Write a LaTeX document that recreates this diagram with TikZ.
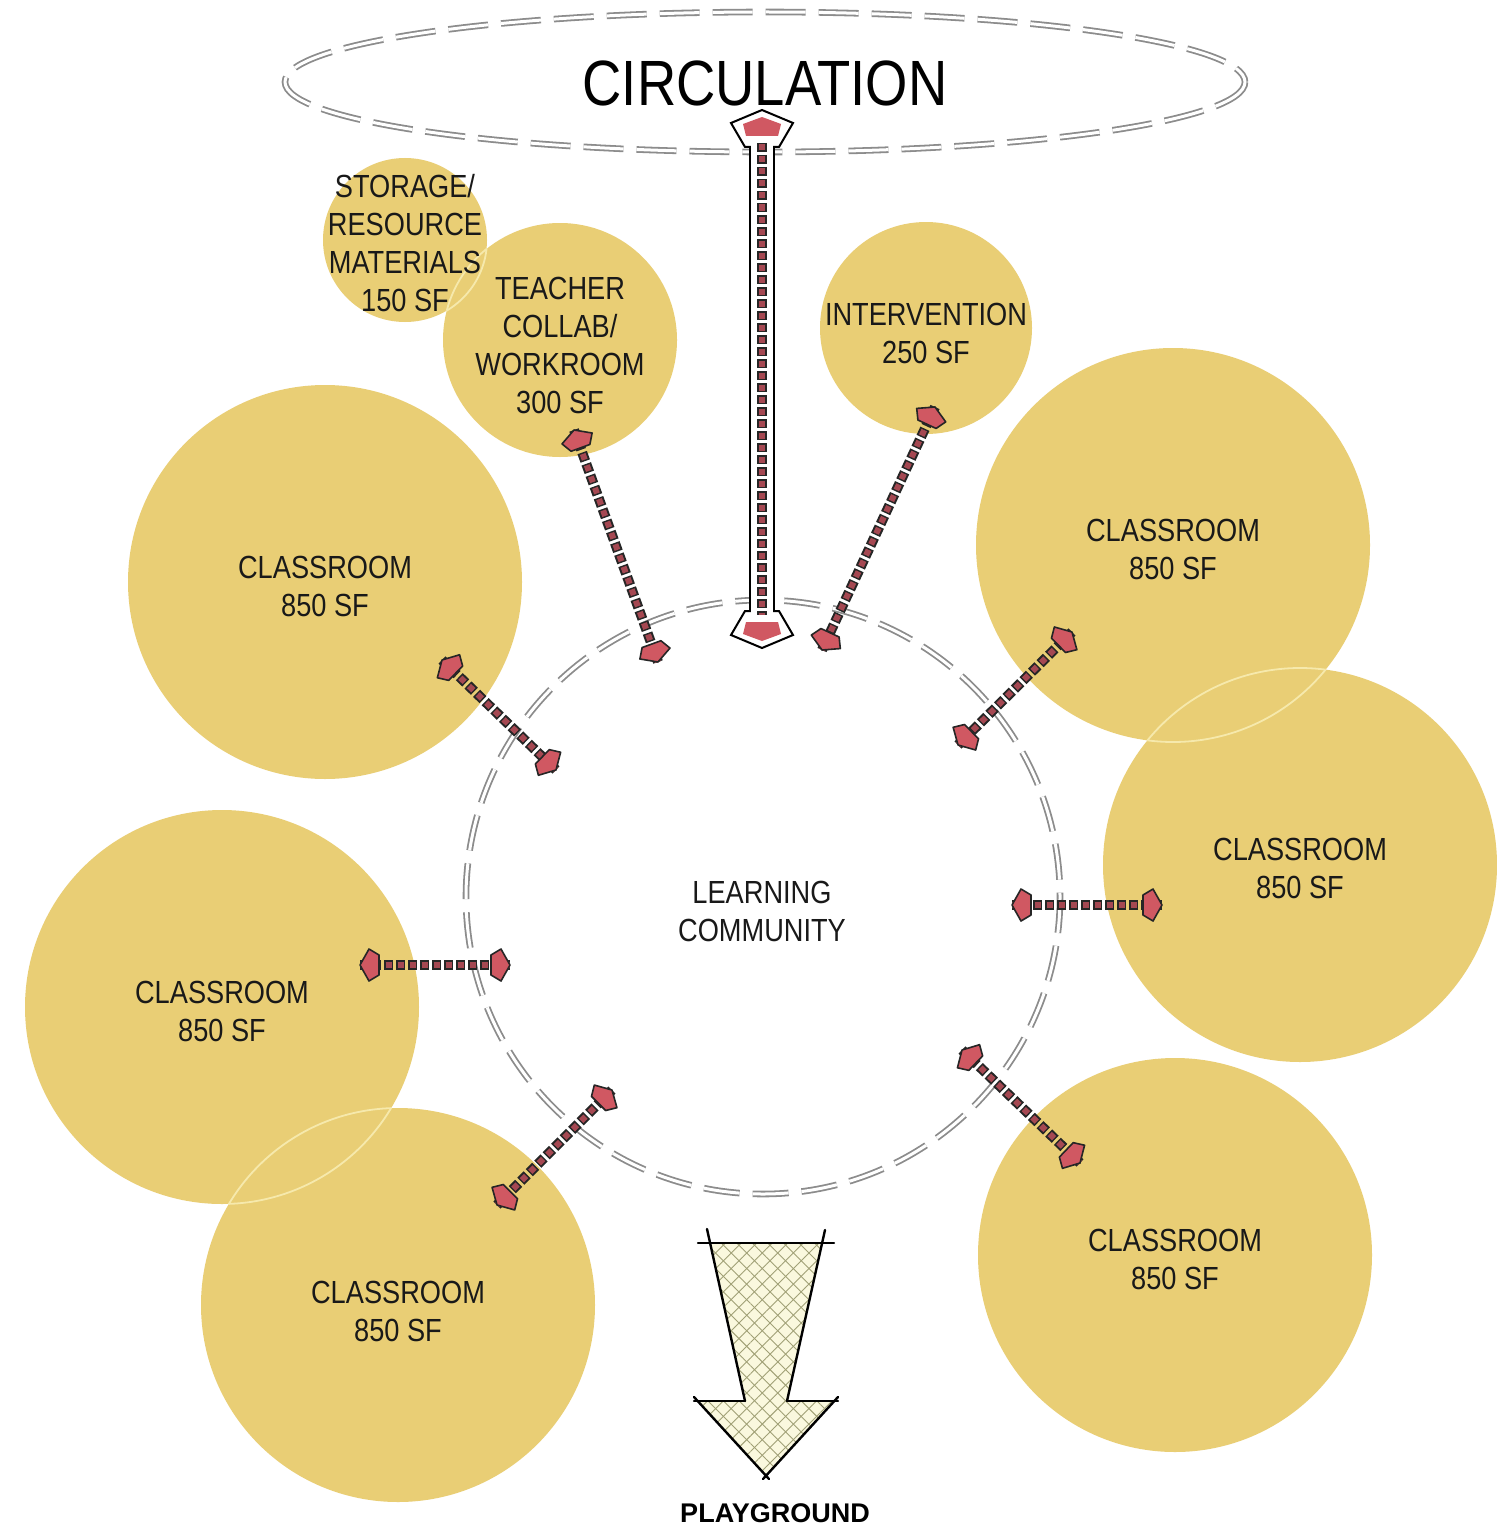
\documentclass[tikz,border=0pt]{standalone}
\usepackage{fontspec}
\usetikzlibrary{decorations.markings,patterns.meta,calc,shapes.geometric}
\newfontfamily\roomfont[FakeStretch=0.85]{Liberation Sans}
\newfontfamily\pgfont{Liberation Sans}
\definecolor{roomfill}{RGB}{233,206,117}
\definecolor{lenscol}{RGB}{246,233,172}
\definecolor{headred}{RGB}{208,88,98}
\definecolor{shaftred}{RGB}{165,72,82}
\definecolor{dashgray}{RGB}{140,140,140}
\definecolor{hatchcol}{RGB}{160,160,118}
\definecolor{cream}{RGB}{250,248,222}
\newcommand\smallhead{\filldraw[solid,fill=headred,draw=black!85,line width=1.6pt,line join=round] (0,0) -- (-9,16) -- (-19,10) -- (-19,-10) -- (-9,-16) -- cycle;}
\newcommand\bighead{\filldraw[solid,fill=white,draw=black,line width=2pt,line join=miter] (0,0) -- (-13,31) -- (-37,17) -- (-37,-17) -- (-13,-31) -- cycle;
 \fill[headred] (-7,0) -- (-14,19) -- (-26,16) -- (-26,-16) -- (-14,-19) -- cycle;}
\tikzset{
 room/.style={circle, fill=roomfill, inner sep=0pt, minimum size=#1},
 lensline/.style={draw=lenscol, line width=1.8pt},
 roomtext/.style={font=\roomfont\fontsize{32}{38}\selectfont, align=center, text=black!90, inner sep=0pt},
 lcircle/.style={draw=dashgray, double=white, double distance=3pt, line width=1.8pt, dash pattern=on 36pt off 13pt},
 linkshaft/.style={draw=shaftred, line width=6pt, dash pattern=on 6pt off 6pt, dash phase=10.5pt,
   preaction={draw=black!85, line width=10pt, dash pattern=on 9pt off 3pt, dash phase=0pt}},
 link/.style={linkshaft, postaction={decorate, decoration={markings,
   mark=at position 0 with {\begin{scope}[xscale=-1]\smallhead\end{scope}},
   mark=at position 1 with {\smallhead}}}},
 bigheads/.style={postaction={decorate, decoration={markings,
   mark=at position 0 with {\begin{scope}[xscale=-1]\bighead\end{scope}},
   mark=at position 1 with {\bighead}}}},
 pgline/.style={draw=black, line width=2.4pt, line cap=round},
}
\begin{document}
\begin{tikzpicture}[x=1pt,y=-1pt]
\useasboundingbox[fill=white] (0,0) rectangle (1496,1533);

% rooms
\node[room=164pt] (stor) at (405,240) {};
\node[room=234pt] (teach) at (560,340) {};
\node[room=212pt] (interv) at (926,328) {};
\node[room=394pt] (crtl) at (325,582) {};
\node[room=394pt] (crrt) at (1173,545) {};
\node[room=394pt] (crrm) at (1300,865) {};
\node[room=394pt] (crlm) at (222,1007) {};
\node[room=394pt] (crbl) at (398,1305) {};
\node[room=394pt] (crbr) at (1175,1255) {};

% faint outlines where circles overlap
\begin{scope}\clip (teach.center) circle[radius=117];
 \path[lensline] (stor.center) circle[radius=82];\end{scope}
\begin{scope}\clip (stor.center) circle[radius=82];
 \path[lensline] (teach.center) circle[radius=117];\end{scope}
\begin{scope}\clip (crrm.center) circle[radius=197];
 \path[lensline] (crrt.center) circle[radius=197];\end{scope}
\begin{scope}\clip (crrt.center) circle[radius=197];
 \path[lensline] (crrm.center) circle[radius=197];\end{scope}
\begin{scope}\clip (crbl.center) circle[radius=197];
 \path[lensline] (crlm.center) circle[radius=197];\end{scope}
\begin{scope}\clip (crlm.center) circle[radius=197];
 \path[lensline] (crbl.center) circle[radius=197];\end{scope}

% learning community and circulation
\node[circle, minimum size=594pt, inner sep=0pt] (lc) at (763,897) {};
\path[lcircle] (lc.center) circle[radius=297];
\node[ellipse, inner sep=0pt] (circ) at (765,82) {};
\path[lcircle, dash pattern=on 40pt off 13pt] (circ.center) ellipse[x radius=480, y radius=70];

% labels
\node[roomtext] (storL) at (405,243) {STORAGE/\\RESOURCE\\MATERIALS\\150 SF};
\node[roomtext] (teachL) at (560,345) {TEACHER\\COLLAB/\\WORKROOM\\300 SF};
\node[roomtext] (intervL) at (926,333) {INTERVENTION\\250 SF};
\node[roomtext] (crtlL) at (325,586) {CLASSROOM\\850 SF};
\node[roomtext] (crrtL) at (1173,549) {CLASSROOM\\850 SF};
\node[roomtext] (crrmL) at (1300,868) {CLASSROOM\\850 SF};
\node[roomtext] (crlmL) at (222,1011) {CLASSROOM\\850 SF};
\node[roomtext] (crblL) at (398,1311) {CLASSROOM\\850 SF};
\node[roomtext] (crbrL) at (1175,1259) {CLASSROOM\\850 SF};
\node[roomtext] (lcL) at (762,911) {LEARNING\\COMMUNITY};
\node[font=\roomfont\fontsize{64}{70}\selectfont, text=black, inner sep=0pt] (circL) at (765,83) {CIRCULATION};

% small link arrows
\coordinate (t1) at (574,430);  \coordinate (t2) at (658,662);
\coordinate (i1) at (935,407);  \coordinate (i2) at (822,650);
\coordinate (a1) at (442,660);  \coordinate (a2) at (556,770);
\coordinate (b1) at (1072,632); \coordinate (b2) at (958,745);
\coordinate (c1) at (1162,905); \coordinate (c2) at (1012,905);
\coordinate (d1) at (360,965);  \coordinate (d2) at (510,965);
\coordinate (e1) at (612,1090); \coordinate (e2) at (497,1205);
\coordinate (f1) at (962,1050); \coordinate (f2) at (1080,1163);
\draw[link] (t1) -- (t2);
\draw[link] (i1) -- (i2);
\draw[link] (a1) -- (a2);
\draw[link] (b1) -- (b2);
\draw[link] (c1) -- (c2);
\draw[link] (d1) -- (d2);
\draw[link] (e1) -- (e2);
\draw[link] (f1) -- (f2);

% circulation arrow
\coordinate (ctop) at (762,110);
\coordinate (cbot) at (762,648);
\path[bigheads] (ctop) -- (cbot);
\draw[line width=26pt, black] ($(ctop)+(0,37)$) -- ($(cbot)+(0,-37)$);
\draw[line width=22pt, white] ($(ctop)+(0,30)$) -- ($(cbot)+(0,-30)$);
\draw[linkshaft] ($(ctop)+(0,33)$) -- ($(cbot)+(0,-33)$);

% playground arrow
\coordinate (p1) at (711,1243); \coordinate (p2) at (822,1243);
\coordinate (p3) at (787,1401); \coordinate (p4) at (834,1401);
\coordinate (ptip) at (766,1474);
\coordinate (p6) at (698,1401); \coordinate (p7) at (745,1401);
\fill[cream] (p1) -- (p2) -- (p3) -- (p4) -- (ptip) -- (p6) -- (p7) -- cycle;
\fill[pattern={Lines[angle=45,distance=11pt,line width=0.9pt]}, pattern color=hatchcol] (p1) -- (p2) -- (p3) -- (p4) -- (ptip) -- (p6) -- (p7) -- cycle;
\fill[pattern={Lines[angle=-45,distance=11pt,line width=0.9pt]}, pattern color=hatchcol] (p1) -- (p2) -- (p3) -- (p4) -- (ptip) -- (p6) -- (p7) -- cycle;
\draw[pgline] (698,1243) -- (834,1243);
\draw[pgline] (707,1229) -- (p7);
\draw[pgline] (825,1230) -- (p3);
\draw[pgline] (694,1401) -- (p7);
\draw[pgline] (p3) -- (838,1401);
\draw[pgline] (694,1397) -- (769,1479);
\draw[pgline] (838,1397) -- (763,1479);
\node[font=\pgfont\bfseries\fontsize{27}{30}\selectfont, inner sep=0pt] (pgL) at (775,1513) {PLAYGROUND};
\end{tikzpicture}
\end{document}
